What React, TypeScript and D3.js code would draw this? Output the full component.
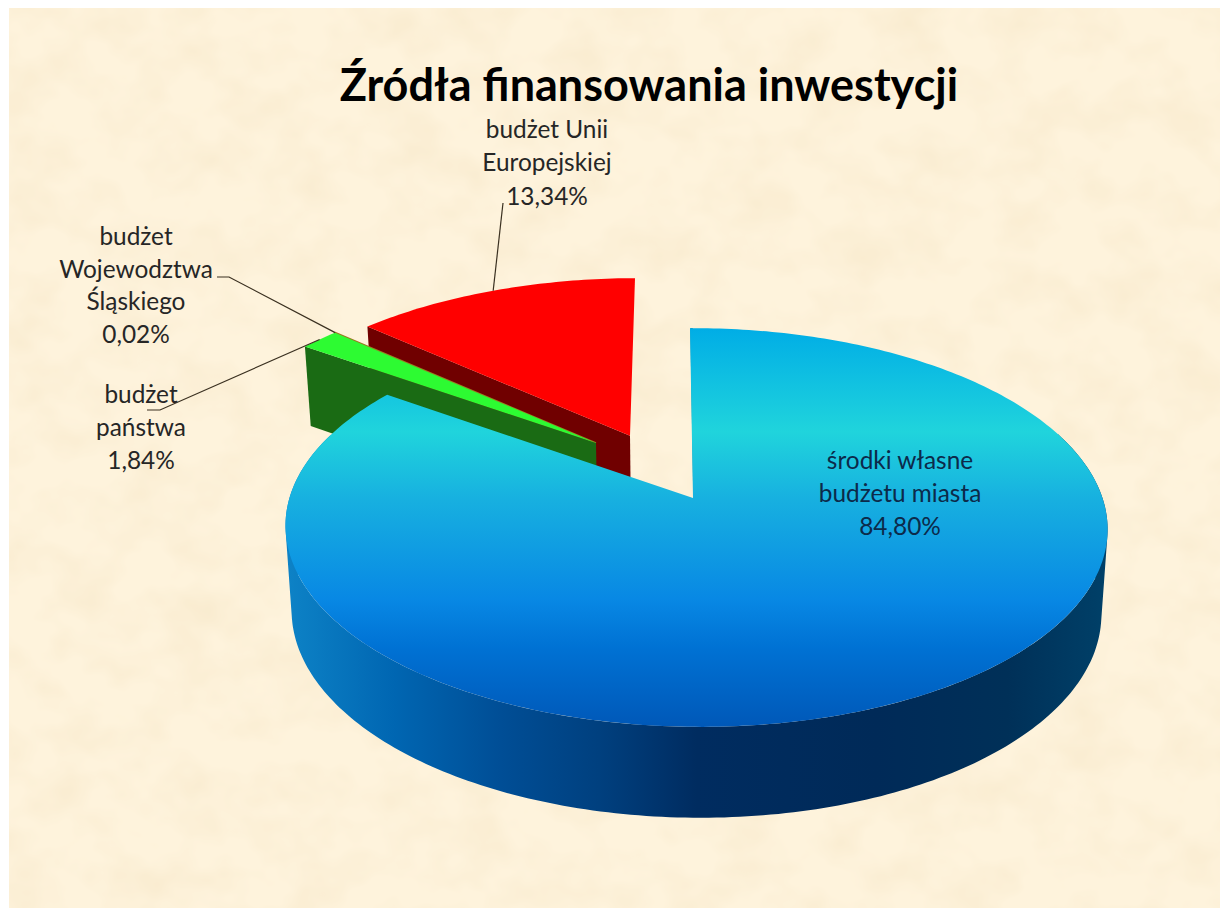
import React from "react";
import * as d3 from "d3";

const TITLE = "Źródła finansowania inwestycji";
const categories = ["środki własne budżetu miasta", "budżet państwa", "budżet Województwa Śląskiego", "budżet Unii Europejskiej"];
const shares = [84.8, 1.84, 0.02, 13.34];
const labelLines = [
  ["środki własne", "budżetu miasta", "84,80%"],
  ["budżet", "państwa", "1,84%"],
  ["budżet", "Wojewodztwa", "Śląskiego", "0,02%"],
  ["budżet Unii", "Europejskiej", "13,34%"],
];
const faceColors = ["url(#topBlue)", "#2dfb32", "#9a7a22", "#ff0000"];
const wallColors = ["url(#wallBlue)", "#1a6b14", "#6a4a10", "#700000"];

// layout (not data)
const W = 1220, H = 908;
const FONT = "Lato, 'Noto Sans', sans-serif";
const apex = { x: 693, y: 498 };
const A = 406.5, B = 195, K = 0.148, M = 0.0073, S = 3.44;
const explode = [
  { u: 0, v: 0, r: 1 },
  { u: -0.247, v: -0.295, r: 1.02 },
  { u: -0.247, v: -0.295, r: 1.02 },
  { u: -0.16, v: -0.335, r: 1.02 },
];
const labelPos = [
  { x: 900, y: 469, dy: 33 },
  { x: 141, y: 403, dy: 33 },
  { x: 136, y: 245, dy: 32.7 },
  { x: 547, y: 138, dy: 33.4 },
];
const leaderRoutes: ([number, number][] | null)[] = [
  null,
  [[147, 410], [160, 410]],
  [[217, 277], [229, 277]],
  [[503, 203]],
];

type P = [number, number];
function top(u: number, v: number): P {
  const w = 1 - K * v - M * u;
  return [apex.x + (A * u + S * v) / w, apex.y + (B * v) / w];
}
function bottom(u: number, v: number): P {
  const [x, y] = top(u, v);
  return [apex.x + (x - apex.x) * 0.985, apex.y + 84 + (y - apex.y) * 1.03];
}
const rim = (a: number, i: number) => ({
  u: explode[i].r * Math.sin(a) + explode[i].u,
  v: -explode[i].r * Math.cos(a) + explode[i].v,
});
const line = d3.line<P>().x((d) => d[0]).y((d) => d[1]);

function samples(a0: number, a1: number) {
  const n = Math.max(2, Math.ceil(Math.abs(a1 - a0) * 60));
  return d3.range(n + 1).map((k) => a0 + ((a1 - a0) * k) / n);
}

const slices = d3.pie<number>().sort(null).startAngle(0).endAngle(2 * Math.PI)(shares);

function facePath(i: number) {
  const s = slices[i];
  const c = top(explode[i].u, explode[i].v);
  const arc = samples(s.startAngle, s.endAngle).map((a) => {
    const r = rim(a, i);
    return top(r.u, r.v);
  });
  return line([c, ...arc])! + "Z";
}
// The curved wall is a union of small quads, so its silhouette includes the
// tangent between the upper and the lower rim.
function rimWall(a0: number, a1: number, i: number) {
  const as = samples(a0, a1);
  return d3.pairs(as).map(([p, q]) => {
    const rp = rim(p, i);
    const rq = rim(q, i);
    const a = top(rp.u, rp.v), b = top(rq.u, rq.v), c = bottom(rq.u, rq.v), d = bottom(rp.u, rp.v);
    const cross = (b[0] - a[0]) * (c[1] - a[1]) - (b[1] - a[1]) * (c[0] - a[0]);
    return line(cross >= 0 ? [a, b, c, d] : [d, c, b, a])! + "Z";
  }).join("");
}
function edgeWall(a: number, i: number) {
  const e = explode[i];
  const r = rim(a, i);
  return line([top(e.u, e.v), top(r.u, r.v), bottom(r.u, r.v), bottom(e.u, e.v)])! + "Z";
}
function anchor(i: number): P {
  const s = slices[i];
  const r = rim((s.startAngle + s.endAngle) / 2, i);
  return top(r.u, r.v);
}
const rad = (deg: number) => (deg * Math.PI) / 180;

export default function App() {
  const blueStart = slices[0].startAngle;
  const edgeTop = top(rim(blueStart, 0).u, rim(blueStart, 0).v);
  const edgeIn = top(0, 0);
  return (
    <svg width={W} height={H} viewBox={`0 0 ${W} ${H}`} style={{ position: "fixed", left: 0, top: 0, display: "block" }}>
      <defs>
        <linearGradient id="topBlue" gradientUnits="userSpaceOnUse" x1="0" y1="328" x2="0" y2="727">
          <stop offset="0" stopColor="#00ade6" />
          <stop offset="0.26" stopColor="#20d4dc" />
          <stop offset="0.43" stopColor="#17b0e0" />
          <stop offset="0.68" stopColor="#0888e4" />
          <stop offset="0.8" stopColor="#0072d4" />
          <stop offset="1" stopColor="#0058b8" />
        </linearGradient>
        <linearGradient id="wallBlue" gradientUnits="userSpaceOnUse" x1="288" y1="0" x2="1105" y2="0">
          <stop offset="0" stopColor="#0d82c6" />
          <stop offset="0.13" stopColor="#0066b2" />
          <stop offset="0.26" stopColor="#004e96" />
          <stop offset="0.38" stopColor="#00407f" />
          <stop offset="0.44" stopColor="#003670" />
          <stop offset="0.5" stopColor="#002c60" />
          <stop offset="0.72" stopColor="#002a58" />
          <stop offset="0.88" stopColor="#003058" />
          <stop offset="1" stopColor="#004068" />
        </linearGradient>
        <filter id="paper" x="0" y="0" width="100%" height="100%">
          <feTurbulence type="fractalNoise" baseFrequency="0.018 0.022" numOctaves={3} seed={7} />
          <feColorMatrix type="matrix" values="0 0 0 0 0.88  0 0 0 0 0.74  0 0 0 0 0.5  0.7 0 0 0 -0.27" />
        </filter>
      </defs>

      <rect x={0} y={0} width={W} height={H} fill="#ffffff" />
      <rect x={9} y={8} width={W - 9} height={H - 8} fill="#fef3dc" />
      <rect x={9} y={8} width={W - 9} height={H - 8} filter="url(#paper)" />

      <text x={649} y={101} textAnchor="middle" fontFamily={FONT} fontWeight={700} fontSize={45} fill="#000">{TITLE}</text>

      {/* red slice */}
      <path d={edgeWall(slices[3].startAngle, 3)} fill={wallColors[3]} />
      <path d={facePath(3)} fill={faceColors[3]} />
      {/* thin slice */}
      <path d={facePath(2)} fill={faceColors[2]} stroke={faceColors[2]} strokeWidth={1.4} />
      {/* green slice */}
      <path d={edgeWall(slices[1].startAngle, 1)} fill={wallColors[1]} />
      <path d={facePath(1)} fill={faceColors[1]} />
      {/* main slice */}
      <path d={rimWall(rad(70), rad(290), 0)} fill={wallColors[0]} />
      <path d={line([[edgeTop[0] + 1.5, edgeTop[1]], [edgeIn[0] + 1.5, edgeIn[1]]])!} stroke="#0e6f8e" strokeWidth={2.4} fill="none" />
      <path d={facePath(0)} fill={faceColors[0]} />

      {leaderRoutes.map((route, i) =>
        route ? (
          <path key={categories[i]} d={line([...route, anchor(i)])!} fill="none" stroke="#3a3020" strokeWidth={1.2} />
        ) : null
      )}

      {labelLines.map((lines, i) => (
        <text key={i} fontFamily={FONT} fontSize={24.4} textAnchor="middle" fill={i === 0 ? "#0c2a4a" : "#262626"}>
          {lines.map((t, j) => (
            <tspan key={j} x={labelPos[i].x} y={labelPos[i].y + j * labelPos[i].dy}>{t}</tspan>
          ))}
        </text>
      ))}
    </svg>
  );
}
